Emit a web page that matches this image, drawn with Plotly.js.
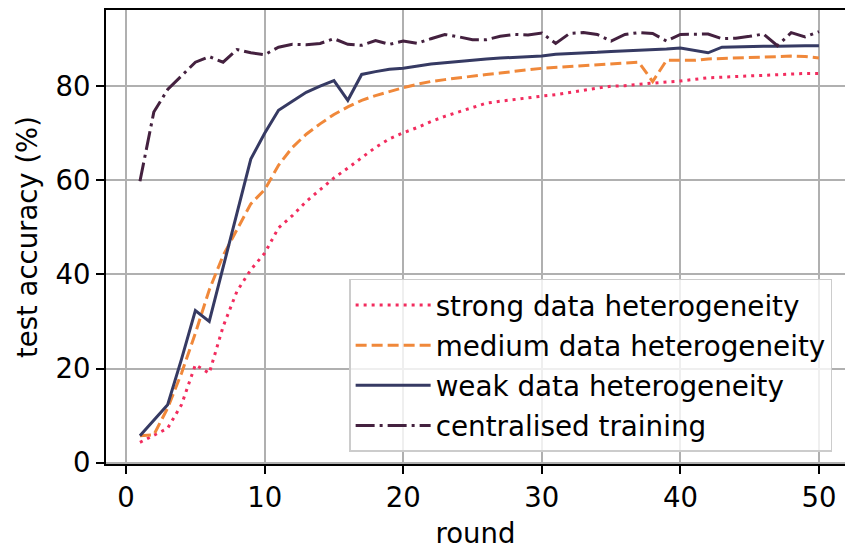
<!DOCTYPE html>
<html><head><meta charset="utf-8">
<script src="https://cdn.plot.ly/plotly-3.0.1.min.js"></script>
<style>html,body{margin:0;padding:0;background:#fff}#chart{width:845px;height:550px}</style>
</head><body><div id="chart"></div>
<script>
const rounds = [1,2,3,4,5,6,7,8,9,10,11,12,13,14,15,16,17,18,19,20,21,22,23,24,25,26,27,28,29,30,31,32,33,34,35,36,37,38,39,40,41,42,43,44,45,46,47,48,49,50];
const strong = [4.3,5.8,7.3,12.3,20.8,19.0,28.9,36.4,41.0,44.5,49.9,52.5,55.5,58.0,60.5,62.6,64.9,67.0,68.8,70.1,71.2,72.5,73.6,74.5,75.4,76.4,76.8,77.2,77.5,77.9,78.2,78.7,79.1,79.6,80.0,80.1,80.4,80.7,80.9,81.1,81.4,81.8,81.9,82.1,82.2,82.3,82.5,82.6,82.7,82.7];
const medium = [5.7,5.9,11.6,19.0,27.5,36.7,44.0,49.5,55.0,58.0,63.2,67.0,69.8,72.0,74.0,75.6,77.0,78.0,78.9,79.7,80.4,81.0,81.4,81.8,82.2,82.5,82.8,83.2,83.5,83.8,84.0,84.2,84.3,84.6,84.8,85.0,85.1,81.0,85.5,85.5,85.5,85.8,85.9,86.0,86.1,86.2,86.4,86.4,86.3,86.0];
const weak = [5.7,9.0,12.3,22.0,32.3,30.0,41.5,53.0,64.5,70.0,74.9,76.8,78.7,80.0,81.2,77.0,82.5,83.1,83.6,83.8,84.3,84.7,85.0,85.3,85.6,85.8,86.0,86.1,86.3,86.4,86.8,86.9,87.0,87.2,87.4,87.5,87.6,87.7,87.9,88.1,87.6,87.1,88.3,88.4,88.4,88.5,88.5,88.6,88.6,88.6];
const centralised = [59.8,74.5,79.3,82.1,85.1,86.3,85.1,87.8,87.1,86.7,88.3,88.9,88.8,89.1,90.1,88.9,88.7,89.7,88.9,89.6,89.1,90.1,91.0,90.5,89.9,89.9,90.6,91.0,90.9,91.3,89.1,91.2,91.4,91.0,89.6,91.0,91.4,91.2,89.6,91.0,91.1,91.1,90.1,90.2,90.6,91.1,88.6,91.4,90.5,91.6];
const seriesNames = ["strong data heterogeneity","medium data heterogeneity","weak data heterogeneity","centralised training"];
const seriesColors = ["#f22c5e","#f0883a","#363a63","#44213f"];
const seriesDash = ["3px,5px","11px,5px","solid","19px,5px,3px,5px"];
const xTicks = [0,10,20,30,40,50];
const yTicks = [0,20,40,60,80];

const values = [strong, medium, weak, centralised];
const traces = values.map((v,i) => ({
  x: rounds, y: v, type: 'scatter', mode: 'lines', name: seriesNames[i],
  legendgroup: 'g'+i,
  line: {color: seriesColors[i], width: 3, dash: seriesDash[i]}
}));

const font = {family: 'DejaVu Sans, sans-serif', size: 27.5, color: '#000'};
const legendFont = {family: 'DejaVu Sans, sans-serif', size: 27.8, color: '#000'};
const layout = {
  width: 845, height: 550,
  margin: {l: 106, r: 0, t: 10, b: 86, pad: 0},
  paper_bgcolor: '#fff', plot_bgcolor: '#fff',
  font: font,
  showlegend: true,
  legend: {
    x: 0.329, y: 0.4075, xanchor: 'left', yanchor: 'top',
    bgcolor: 'rgba(255,255,255,0.8)', bordercolor: '#cccccc', borderwidth: 1.5,
    font: legendFont, tracegroupgap: 1, itemwidth: 75
  },
  xaxis: {
    range: [-1.45, 51.88], tickvals: xTicks, ticktext: xTicks.map(String),
    showgrid: true, gridcolor: '#b0b0b0', gridwidth: 2,
    showline: true, linecolor: '#000', linewidth: 2, mirror: true,
    ticks: 'outside', ticklen: 8, tickwidth: 2, tickcolor: '#000',
    zeroline: false,
    title: {text: 'round', font: font, standoff: 12}
  },
  yaxis: {
    range: [-0.3, 96.2], tickvals: yTicks, ticktext: yTicks.map(String),
    showgrid: true, gridcolor: '#b0b0b0', gridwidth: 2,
    showline: true, linecolor: '#000', linewidth: 2, mirror: false,
    ticks: 'outside', ticklen: 8, tickwidth: 2, tickcolor: '#000',
    zeroline: false,
    title: {text: 'test accuracy (%)', font: font, standoff: 10}
  }
};
Plotly.newPlot('chart', traces, layout, {displayModeBar: false, staticPlot: true});
</script>
</body></html>
